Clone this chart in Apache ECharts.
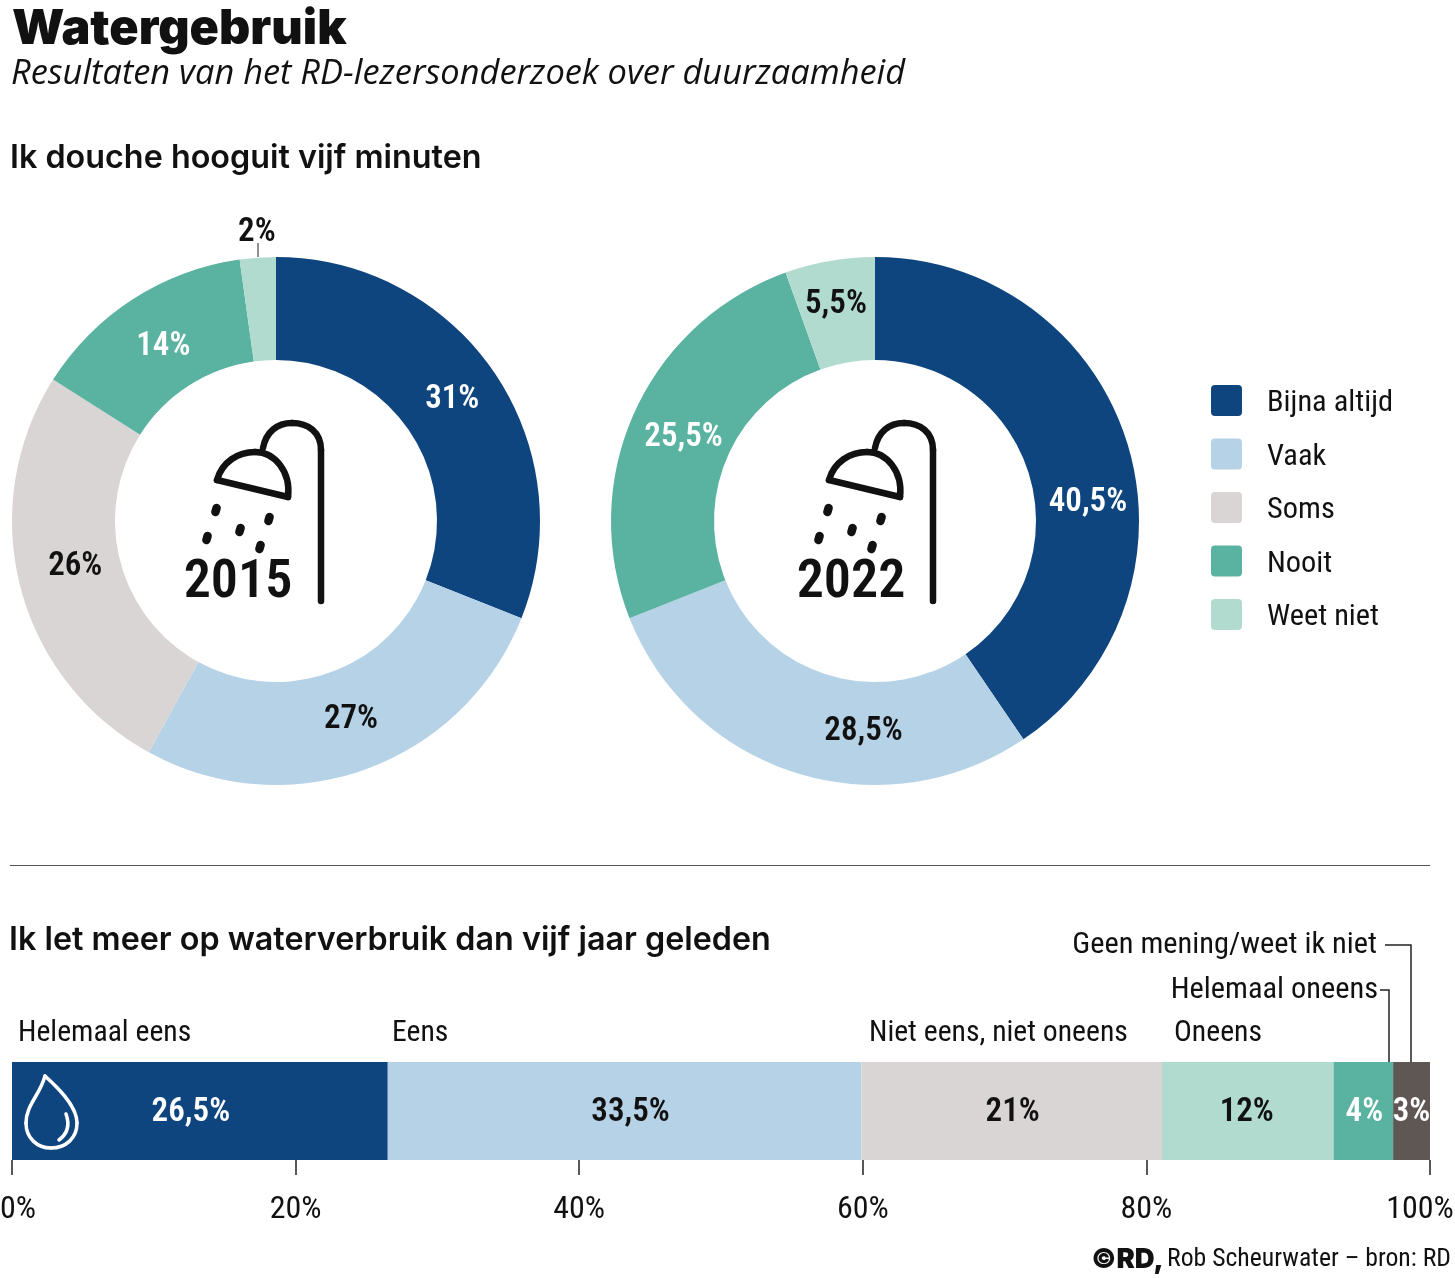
<!DOCTYPE html>
<html><head><meta charset="utf-8">
<style>html,body{margin:0;padding:0;background:#fff}#c{width:1455px;height:1278px}</style>
<script src="https://cdn.jsdelivr.net/npm/echarts@6/dist/echarts.min.js"></script>
</head><body><div id="c"></div>
<script>
const pieNames2015 = ['Bijna altijd','Vaak','Soms','Nooit','Weet niet'];
const pieValues2015 = [31,27,26,13.8,2.2];
const piePrinted2015 = ['31%','27%','26%','14%','2%'];
const pieNames2022 = ['Bijna altijd','Vaak','Nooit','Weet niet'];
const pieValues2022 = [40.5,28.5,25.5,5.5];
const piePrinted2022 = ['40,5%','28,5%','25,5%','5,5%'];
const pieColors = {'Bijna altijd':'#0f457f','Vaak':'#b5d2e7','Soms':'#d8d5d4','Nooit':'#5ab2a0','Weet niet':'#b2dbd0'};
const pieLabelColors = {'Bijna altijd':'#fff','Vaak':'#111','Soms':'#111','Nooit':'#fff','Weet niet':'#111'};
const barNames = ['Helemaal eens','Eens','Niet eens, niet oneens','Oneens','Helemaal oneens','Geen mening/weet ik niet'];
const barValues = [26.5,33.4,21.2,12.1,4.2,2.6];
const barPrinted = ['26,5%','33,5%','21%','12%','4%','3%'];
const barColors = ['#0f457f','#b5d2e7','#d8d5d4','#b2dbd0','#5ab2a0','#5f5754'];
const barLabelColors = ['#fff','#111','#111','#111','#fff','#fff'];
const axisTicks = {min:0,max:100,interval:20};

const NARROW = '"Roboto Condensed",Roboto,sans-serif';
const HEAD = 'Inter,"Open Sans",sans-serif';
const nudge2015 = [[-2,0],[2,-4],[8,-8],[4,7],[54,-10]];
const nudge2022 = [[7,45],[52,5],[5,5],[-2,-4]];
const barNudge = [[-9,2],[6,2],[1,2],[-1,2],[1,2],[0,2]];

function pie(names, values, printed, cx, nudge){
  return {
    type:'pie', center:[cx,521], radius:[161,264], startAngle:90, clockwise:true, silent:true,
    animation:false, minShowLabelAngle:0,
    labelLayout:p=>({dx:nudge[p.dataIndex][0],dy:nudge[p.dataIndex][1]}),
    labelLine:{show:false},
    data:names.map((n,i)=>({
      name:n, value:values[i],
      itemStyle:{color:pieColors[n]},
      label:{show:true,color:pieLabelColors[n],position:values[i]<3?'outside':'inside'}
    })),
    label:{formatter:p=>printed[p.dataIndex],fontFamily:NARROW,fontWeight:600,fontSize:33}
  };
}
const barSeries = barNames.map((n,i)=>({
  type:'bar', stack:'t', name:n, barWidth:98, silent:true, animation:false,
  xAxisIndex:0,yAxisIndex:0,
  data:[barValues[i]], itemStyle:{color:barColors[i]},
  label:{show:true,position:'inside',offset:barNudge[i],formatter:barPrinted[i],color:barLabelColors[i],
    fontFamily:NARROW,fontWeight:600,fontSize:33}
}));
const T=(text,x,y,o)=>({type:'text',x,y,style:Object.assign({text,x:0,y:0,fill:'#111',font:'30.4px '+NARROW,textVerticalAlign:'middle'},o||{})});
const L=(pts,w)=>({type:'polyline',shape:{points:pts},style:{stroke:'#222',lineWidth:w||1.5,fill:null}});
const B=(a,b,c,d,e,f,g,h,s,z)=>({type:'bezierCurve',z:z||0,shape:{x1:a,y1:b,cpx1:c,cpy1:d,cpx2:e,cpy2:f,x2:g,y2:h},style:s});
function shower(dx){
  const s={stroke:'#111',lineWidth:6.5,fill:null,lineCap:'round',lineJoin:'round'};
  const d={stroke:'#111',lineWidth:8.5,fill:null,lineCap:'round'};
  const drop=(x,y)=>({type:'line',shape:{x1:x+0.6,y1:y-2,x2:x-0.6,y2:y+2},style:d});
  return {type:'group',x:dx,y:400,children:[
    {type:'polyline',shape:{points:[[151,201],[151,50]]},style:s},
    B(151,50,151,32,138,23,122,23,s),
    B(122,23,107,23,96,32,93,48,s),
    B(47,80,52,62,68,52,85,52,s),
    B(85,52,105,52,121,72,118,97,s),
    {type:'polyline',shape:{points:[[118,97],[47,80]]},style:s},
    drop(46,110),drop(37,138),drop(70,130),drop(99,119),drop(90,147)
  ]};
}
const ws={stroke:'#fff',lineWidth:3.5,fill:null,lineCap:'round'};
const rowFont={font:'29.7px '+NARROW};
const graphic=[
  T('Watergebruik',12,29,{font:'900 48.5px '+HEAD}),
  T('Resultaten van het RD-lezersonderzoek over duurzaamheid',11,74,{font:'italic 34.4px "Open Sans",sans-serif'}),
  T('Ik douche hooguit vijf minuten',10,158,{font:'600 32.3px '+HEAD}),
  T('Ik let meer op waterverbruik dan vijf jaar geleden',9,940,{font:'600 32.3px '+HEAD}),
  T('2015',238,583,{font:'600 54px '+NARROW,textAlign:'center'}),
  T('2022',851,583,{font:'600 54px '+NARROW,textAlign:'center'}),
  shower(170),shower(782),
  {type:'line',shape:{x1:10,y1:865.5,x2:1430,y2:865.5},style:{stroke:'#555',lineWidth:1}},
  T(barNames[0],18,1034,rowFont),T(barNames[1],392,1034,rowFont),T(barNames[2],869,1034,rowFont),T(barNames[3],1174,1034,rowFont),
  T(barNames[4],1378,990,{textAlign:'right'}),
  T(barNames[5],1377,945,{textAlign:'right'}),
  L([[1380,990],[1389,990],[1389,1062]]),
  L([[1385,945],[1411,945],[1411,1062]]),
  L([[258,243],[258,257]],1),
  B(45,1076,40,1095,26,1105,26,1123,ws,10),
  B(26,1123,26,1138,37,1148,51,1148,ws,10),
  B(51,1148,66,1148,77,1138,77,1123,ws,10),
  B(77,1123,77,1105,55,1085,45,1076,ws,10),
  B(66,1114,70,1125,67,1134,59,1140,ws,10),
  {type:'text',x:1451,y:1260,style:{rich:{b:{font:'900 27.5px '+HEAD,fill:'#111'},r:{font:'25.7px '+NARROW,fill:'#111'}},text:'{b|©RD,} {r|Rob Scheurwater – bron: RD}',textAlign:'right',textVerticalAlign:'middle'}}
];
const chart=echarts.init(document.getElementById('c'),null,{renderer:'canvas'});
chart.setOption({
  animation:false, backgroundColor:'#fff',
  grid:{left:12,width:1418,top:1062,height:98,containLabel:false,outerBoundsMode:'none'},
  xAxis:{type:'value',min:axisTicks.min,max:axisTicks.max,interval:axisTicks.interval,
    axisLine:{show:false},splitLine:{show:false},
    axisTick:{show:true,length:15,lineStyle:{color:'#222',width:1.5}},
    axisLabel:{margin:34,color:'#111',fontFamily:NARROW,fontSize:32,
      formatter:v=>v===0?'{l|0%}':v===100?'{r|100%}':v+'%',
      rich:{l:{padding:[0,0,0,12],fontFamily:NARROW,fontSize:32,color:'#111'},
            r:{padding:[0,20,0,0],fontFamily:NARROW,fontSize:32,color:'#111'}}}},
  yAxis:{type:'category',data:['Ik let meer op waterverbruik'],show:false},
  legend:{show:true,orient:'vertical',left:1211,top:385,padding:0,itemWidth:31,itemHeight:31,itemGap:20,
    icon:'path://M4 0H27Q31 0 31 4V27Q31 31 27 31H4Q0 31 0 27V4Q0 0 4 0Z',
    data:pieNames2015,selectedMode:false,formatter:n=>'{a|'+n+'}',
    textStyle:{padding:[0,0,0,20],rich:{a:{fontFamily:NARROW,fontSize:30.4,color:'#111',padding:[6,0,0,0]}}}},
  series:[pie(pieNames2015,pieValues2015,piePrinted2015,276,nudge2015),pie(pieNames2022,pieValues2022,piePrinted2022,875,nudge2022),...barSeries],
  graphic:{elements:graphic}
});
</script></body></html>
